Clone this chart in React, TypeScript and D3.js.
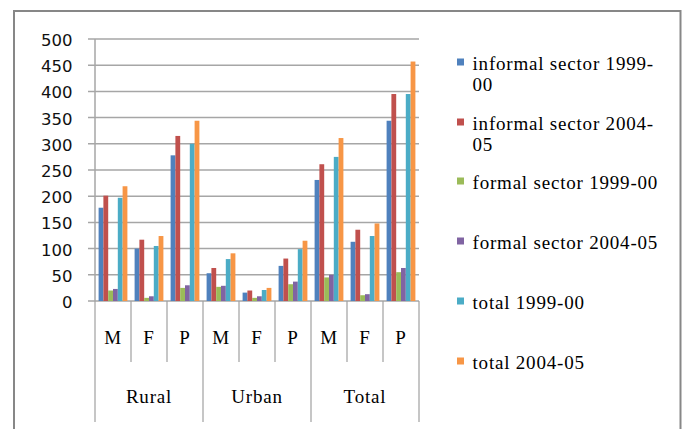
import React from "react";
import * as d3 from "d3";

const regions = ["Rural", "Urban", "Total"];
const sexes = ["M", "F", "P"];
const seriesNames = [
  "informal sector 1999-00",
  "informal sector 2004-05",
  "formal sector 1999-00",
  "formal sector 2004-05",
  "total 1999-00",
  "total 2004-05",
];
const legendLines = [
  ["informal sector 1999-", "00"],
  ["informal sector 2004-", "05"],
  ["formal sector 1999-00"],
  ["formal sector 2004-05"],
  ["total 1999-00"],
  ["total 2004-05"],
];
const informal9900 = [178, 100, 278, 53, 16, 67, 231, 113, 344];
const informal0405 = [201, 117, 315, 63, 20, 81, 261, 136, 395];
const formal9900 = [20, 6, 25, 27, 6, 32, 45, 11, 55];
const formal0405 = [23, 9, 30, 29, 9, 37, 50, 13, 63];
const total9900 = [197, 105, 300, 80, 21, 99, 275, 124, 395];
const total0405 = [219, 124, 344, 91, 25, 115, 311, 148, 457];
const seriesValues = [informal9900, informal0405, formal9900, formal0405, total9900, total0405];
const colors = ["#4F81BD", "#C0504D", "#9BBB59", "#8064A2", "#4BACC6", "#F79646"];
const yTicks = [0, 50, 100, 150, 200, 250, 300, 350, 400, 450, 500];

export default function App() {
  const W = 683, H = 429;
  const left = 95, right = 419, top = 39, bottom = 301;
  const cells = regions.flatMap((r) => sexes.map((s) => r + "|" + s));
  const x = d3.scaleBand<string>().domain(cells).range([left, right]).paddingInner(0).paddingOuter(0);
  const xi = d3.scaleBand<string>().domain(seriesNames).range([0, x.bandwidth()]).paddingInner(0).paddingOuter(0.75);
  const y = d3.scaleLinear().domain([0, 500]).range([bottom, top]);
  const serif = "'Liberation Serif', 'Times New Roman', serif";
  const sans = "'DejaVu Sans', Verdana, sans-serif";
  const legendBase = [70, 130, 189, 249, 309, 369];
  const regionWidth = (right - left) / regions.length;

  return (
    <svg width={W} height={H} style={{ position: "absolute", left: 0, top: 0, background: "#fff" }}>
      <rect x={0} y={0} width={W} height={H} fill="#fff" />
      <rect x={14} y={11} width={666.5} height={500} fill="none" stroke="#878787" strokeWidth={2} />
      {yTicks.map((t) => (
        <g key={t}>
          <line x1={88} x2={right} y1={y(t)} y2={y(t)} stroke="#a6a6a6" strokeWidth={1.5} />
          <text x={72.5} y={y(t) + 7} textAnchor="end" fontFamily={sans} fontSize={16.5} fill="#111">
            {t}
          </text>
        </g>
      ))}
      <line x1={left} x2={left} y1={top} y2={bottom} stroke="#a6a6a6" strokeWidth={1.5} />
      {seriesNames.map((s, si) =>
        cells.map((c, ci) => {
          const v = seriesValues[si][ci];
          return (
            <rect
              key={s + c}
              x={(x(c) as number) + (xi(s) as number)}
              y={y(v)}
              width={xi.bandwidth()}
              height={y(0) - y(v)}
              fill={colors[si]}
            />
          );
        })
      )}
      {cells.map((c, ci) => {
        const x0 = x(c) as number;
        const isGroup = ci % 3 === 0;
        return (
          <g key={"t" + c}>
            <line x1={x0} x2={x0} y1={bottom} y2={isGroup ? 422 : 362} stroke="#a0a0a0" strokeWidth={1.2} />
            <text x={x0 + x.bandwidth() / 2} y={344} textAnchor="middle" fontFamily={serif} fontSize={19} letterSpacing={0.8} fill="#000">
              {c.split("|")[1]}
            </text>
          </g>
        );
      })}
      <line x1={right} x2={right} y1={bottom} y2={422} stroke="#a0a0a0" strokeWidth={1.2} />
      {regions.map((r, ri) => (
        <text key={r} x={left + regionWidth * (ri + 0.5)} y={403} textAnchor="middle" fontFamily={serif} fontSize={19} letterSpacing={0.8} fill="#000">
          {r}
        </text>
      ))}
      {seriesNames.map((s, si) => (
        <g key={"lg" + s}>
          <rect x={457} y={legendBase[si] - 11.5} width={7} height={7} fill={colors[si]} />
          {legendLines[si].map((ln, li) => (
            <text key={li} x={472.5} y={legendBase[si] + li * 21} fontFamily={serif} fontSize={19} letterSpacing={0.8} fill="#000">
              {ln}
            </text>
          ))}
        </g>
      ))}
    </svg>
  );
}
